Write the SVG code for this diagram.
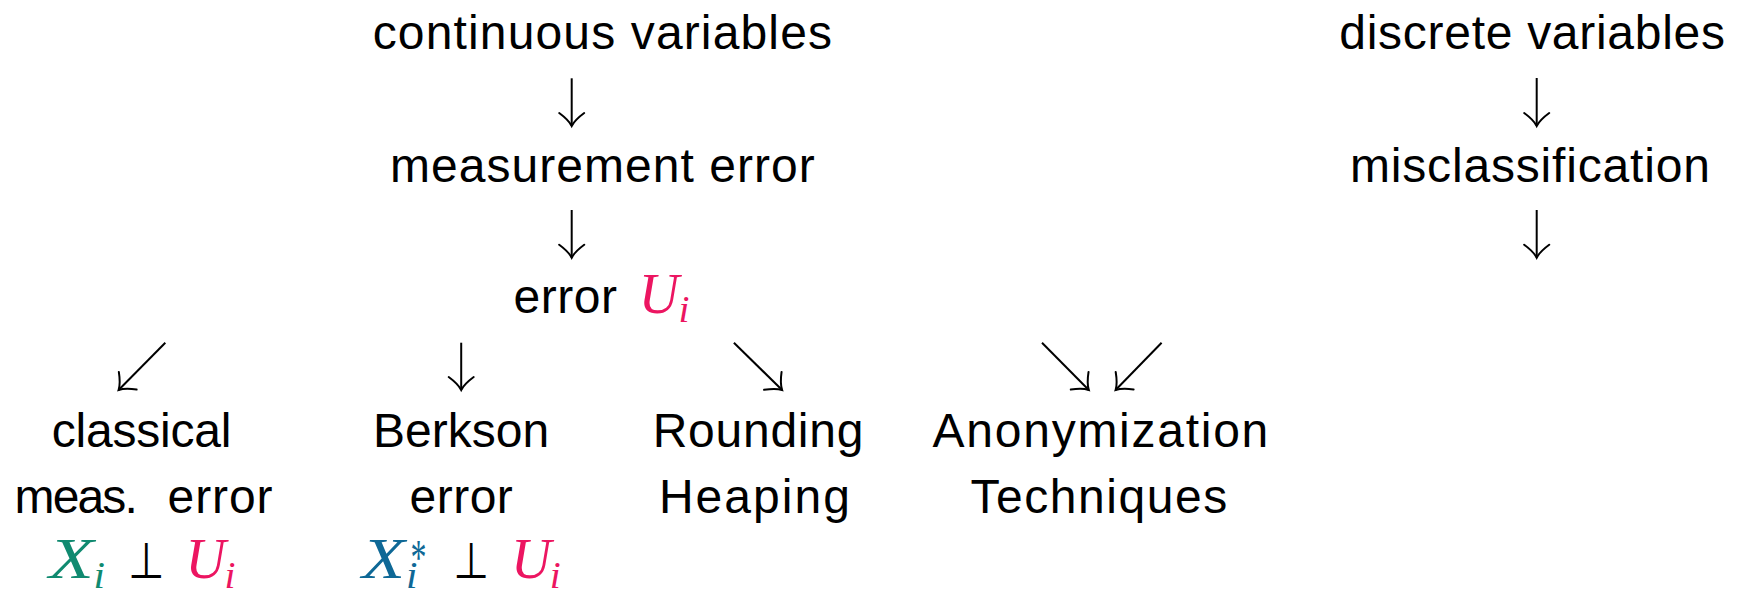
<svg xmlns="http://www.w3.org/2000/svg" width="1745" height="592" viewBox="0 0 1745 592">
<style>
.t{font-family:"Liberation Sans",Arial,sans-serif;font-size:48px;fill:#000}
.m{font-family:"Liberation Serif","Times New Roman",serif;font-style:italic;font-size:56px}
.s{font-family:"Liberation Serif","Times New Roman",serif;font-style:italic;font-size:38px}
.p{font-family:"DejaVu Sans",sans-serif;font-size:50px;fill:#000}
.st{font-family:"Liberation Serif","Times New Roman",serif;font-size:50px}
.pk{fill:#EC1561}.gr{fill:#108A70}.bl{fill:#0E6896}
.c line{stroke:#000;stroke-width:2;fill:none;marker-end:url(#ah)}
</style>
<defs>
<marker id="ah" markerUnits="userSpaceOnUse" viewBox="-16 -16 20 32" markerWidth="20" markerHeight="32" refX="0" refY="0" orient="auto">
<path d="M-13,-12.5 Q-6,-3 0,0 Q-6,3 -13,12.5" fill="none" stroke="#000" stroke-width="2" stroke-linecap="round"/>
</marker>
</defs>
<rect width="1745" height="592" fill="#fff"/>
<g id="continuous"><text class="t" x="372.7" y="49.3" textLength="459.3">continuous variables</text></g>
<g id="measurement"><text class="t" x="390" y="181.7" textLength="424.7">measurement error</text></g>
<g id="errorU">
<text class="t" x="513.5" y="313.3" textLength="103.4">error</text>
<text class="m pk" x="638.7" y="313.3" textLength="40.2" lengthAdjust="spacingAndGlyphs">U</text>
<text class="s pk" x="678.5" y="321.7" textLength="11" lengthAdjust="spacingAndGlyphs">i</text>
</g>
<g id="discrete"><text class="t" x="1339.3" y="49.3" textLength="385.7">discrete variables</text></g>
<g id="misclassification"><text class="t" x="1350" y="181.7" textLength="360">misclassification</text></g>
<g id="classical">
<text class="t" x="51.7" y="446.7" textLength="179.8">classical</text>
<text class="t" x="14.5" y="512.7" textLength="123.3">meas.</text>
<text class="t" x="167.6" y="512.7" textLength="104.9">error</text>
<text class="m gr" x="49" y="578.3" textLength="44.8" lengthAdjust="spacingAndGlyphs">X</text>
<text class="s gr" x="93.5" y="587.7" textLength="11.5" lengthAdjust="spacingAndGlyphs">i</text>
<text class="p" x="128.2" y="578.3" textLength="36.4" lengthAdjust="spacingAndGlyphs">⊥</text>
<text class="m pk" x="185.6" y="578.3" textLength="40.2" lengthAdjust="spacingAndGlyphs">U</text>
<text class="s pk" x="224.5" y="587.7" textLength="11" lengthAdjust="spacingAndGlyphs">i</text>
</g>
<g id="berkson">
<text class="t" x="373.1" y="446.7" textLength="176.1">Berkson</text>
<text class="t" x="409.5" y="512.7" textLength="103.3">error</text>
<text class="m bl" x="362" y="578.3" textLength="43" lengthAdjust="spacingAndGlyphs">X</text>
<text class="st bl" x="410.5" y="574" textLength="16" lengthAdjust="spacingAndGlyphs">*</text>
<text class="s bl" x="406" y="588.3" textLength="11.5" lengthAdjust="spacingAndGlyphs">i</text>
<text class="p" x="453.4" y="578.3" textLength="35.7" lengthAdjust="spacingAndGlyphs">⊥</text>
<text class="m pk" x="510.9" y="578.3" textLength="40.2" lengthAdjust="spacingAndGlyphs">U</text>
<text class="s pk" x="549.8" y="587.7" textLength="11" lengthAdjust="spacingAndGlyphs">i</text>
</g>
<g id="rounding">
<text class="t" x="652.7" y="446.7" textLength="210.7">Rounding</text>
<text class="t" x="658.9" y="513.3" textLength="191.1">Heaping</text>
</g>
<g id="anonymization">
<text class="t" x="932.6" y="446.7" textLength="335.7">Anonymization</text>
<text class="t" x="970.5" y="513.3" textLength="256.7">Techniques</text>
</g>
<g id="connectors" class="c">
<line x1="571.7" y1="78.3" x2="571.7" y2="126"/>
<line x1="571.7" y1="210" x2="571.7" y2="257.7"/>
<line x1="1536.7" y1="78" x2="1536.7" y2="126"/>
<line x1="1536.7" y1="210" x2="1536.7" y2="257.7"/>
<line x1="165.3" y1="342.7" x2="118.6" y2="390"/>
<line x1="461.2" y1="342.7" x2="461.2" y2="390"/>
<line x1="733.9" y1="342.7" x2="782.1" y2="390"/>
<line x1="1042" y1="342.7" x2="1088.8" y2="390"/>
<line x1="1161.6" y1="342.7" x2="1115.6" y2="390"/>
</g>
</svg>
